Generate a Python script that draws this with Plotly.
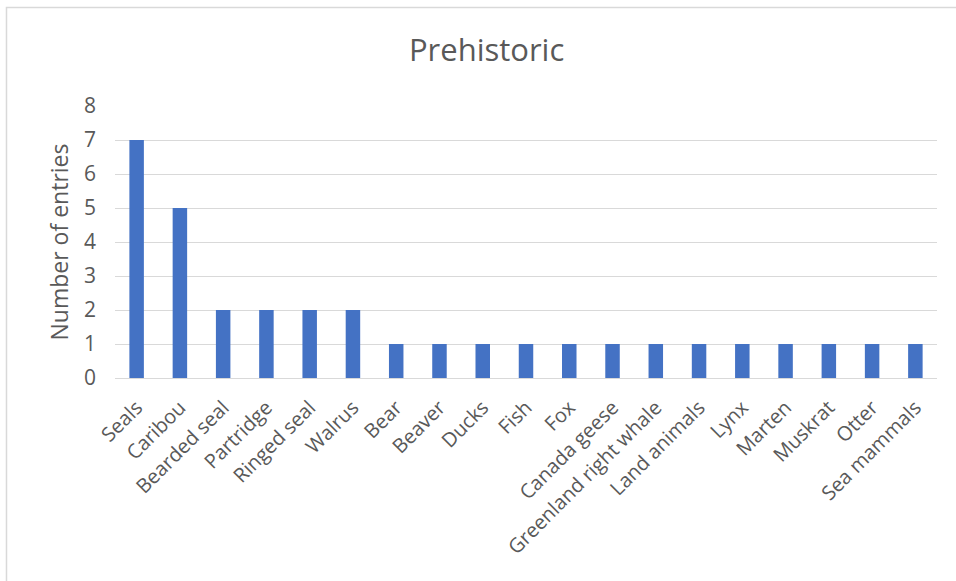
import plotly.graph_objects as go

# Prehistoric record counts by animal
animals = ["Seals", "Caribou", "Bearded seal", "Partridge", "Ringed seal", "Walrus",
           "Bear", "Beaver", "Ducks", "Fish", "Fox", "Canada geese",
           "Greenland right whale", "Land animals", "Lynx", "Marten", "Muskrat",
           "Otter", "Sea mammals"]
entries = [7, 5, 2, 2, 2, 2, 1, 1, 1, 1, 1, 1, 1, 1, 1, 1, 1, 1, 1]
y_ticks = [0, 1, 2, 3, 4, 5, 6, 7, 8]

TEXT = "#595959"
FONT = "Open Sans"

fig = go.Figure(go.Bar(
    x=animals, y=entries,
    marker=dict(color="#4472C4", line=dict(width=0)),
))

fig.update_layout(
    width=956, height=581,
    margin=dict(l=115, r=19, t=106, b=203),
    paper_bgcolor="white", plot_bgcolor="white",
    bargap=0.665,
    showlegend=False,
    font=dict(family=FONT, color=TEXT, size=20),
    title=dict(text="Prehistoric", x=0.509, xanchor="center", y=0.914, yanchor="middle",
               yref="container", font=dict(size=31, color=TEXT, family=FONT)),
    xaxis=dict(tickangle=-45, showgrid=False, showline=True, linecolor="#D9D9D9",
               linewidth=1, ticks="", ticklabelstandoff=9,
               tickfont=dict(size=20, color=TEXT)),
    yaxis=dict(range=[0, 8], tickvals=y_ticks, showgrid=True, gridcolor="#D9D9D9",
               gridwidth=1, zeroline=False, showline=False, ticks="",
               ticklabelstandoff=18,
               tickfont=dict(size=21, color=TEXT),
               title=dict(text="Number of entries", font=dict(size=23, color=TEXT), standoff=8)),
    shapes=[dict(type="rect", xref="paper", yref="paper",
                 x0=-0.132, x1=1.03, y0=-0.8, y1=1.362,
                 line=dict(color="#D9D9D9", width=1.5), layer="below")],
)

fig.write_html("out.html")
